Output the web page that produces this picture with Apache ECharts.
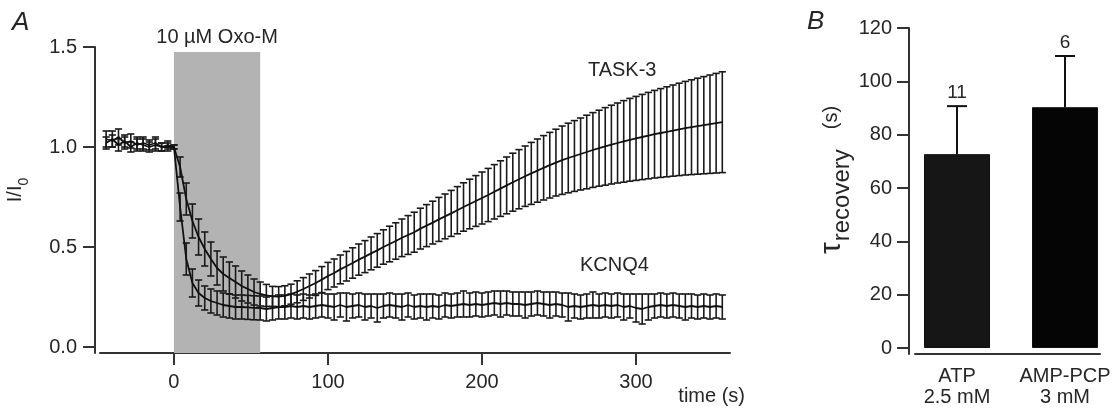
<!DOCTYPE html>
<html><head><meta charset="utf-8">
<script src="https://cdn.jsdelivr.net/npm/echarts@6/dist/echarts.min.js"></script>
<style>html,body{margin:0;padding:0;background:#fff}#c{width:1112px;height:408px}</style>
</head><body><div id="c"></div>
<script>
// ---------- Panel A data ----------
const times = [-44,-40,-36,-32,-28,-24,-20,-16,-12,-8,-4,
0,4,8,12,16,20,24,28,32,36,40,44,48,52,56,60,64,68,72,76,80,84,88,92,96,
100,104,108,112,116,120,124,128,132,136,140,144,148,152,156,160,164,168,172,176,180,184,188,192,196,
200,204,208,212,216,220,224,228,232,236,240,244,248,252,256,260,264,268,272,276,280,284,288,292,296,
300,304,308,312,316,320,324,328,332,336,340,344,348,352,356];
const task3Mean = [1.04,1.03,1.05,1.02,1.03,1.01,1.02,1.01,1.02,1.00,1.01,
1.00,0.90,0.74,0.63,0.55,0.49,0.44,0.395,0.365,0.345,0.325,0.305,0.29,0.275,0.265,0.258,0.253,0.252,0.256,0.264,0.276,0.29,0.305,0.32,0.337,
0.355,0.37,0.388,0.404,0.42,0.437,0.452,0.468,0.483,0.50,0.515,0.53,0.546,0.56,0.574,0.592,0.607,0.622,0.638,0.653,0.668,0.684,0.70,0.715,0.73,
0.745,0.76,0.776,0.792,0.808,0.824,0.839,0.854,0.868,0.882,0.896,0.909,0.922,0.934,0.945,0.955,0.965,0.975,0.985,0.994,1.003,1.012,1.02,1.028,1.036,
1.043,1.05,1.057,1.064,1.07,1.076,1.082,1.088,1.094,1.099,1.104,1.109,1.114,1.119,1.124];
const task3Err = [0.04,0.03,0.04,0.03,0.035,0.03,0.03,0.025,0.03,0.02,0.02,
0.01,0.05,0.08,0.085,0.09,0.085,0.085,0.085,0.085,0.08,0.08,0.075,0.07,0.065,0.06,0.055,0.05,0.05,0.05,0.05,0.055,0.057,0.06,0.062,0.065,
0.068,0.07,0.072,0.074,0.076,0.078,0.08,0.082,0.084,0.086,0.089,0.091,0.094,0.097,0.10,0.102,0.105,0.107,0.11,0.112,0.115,0.118,0.121,0.124,0.127,
0.13,0.133,0.136,0.139,0.142,0.145,0.148,0.151,0.155,0.158,0.161,0.164,0.167,0.171,0.174,0.177,0.18,0.184,0.187,0.19,0.194,0.197,0.20,0.204,0.207,
0.21,0.213,0.216,0.219,0.222,0.225,0.228,0.231,0.234,0.237,0.24,0.243,0.246,0.249,0.252];
const kcnq4Mean = [1.02,1.04,1.01,1.03,1.00,1.02,1.01,1.00,1.01,1.00,1.00,
1.00,0.70,0.44,0.32,0.27,0.245,0.23,0.22,0.21,0.205,0.20,0.20,0.198,0.196,0.195,0.19,0.195,0.20,0.20,0.205,0.20,0.205,0.20,0.205,0.21,
0.205,0.20,0.21,0.20,0.205,0.21,0.20,0.205,0.195,0.205,0.21,0.205,0.20,0.21,0.20,0.205,0.20,0.205,0.20,0.21,0.205,0.21,0.215,0.21,0.215,
0.21,0.215,0.22,0.215,0.22,0.215,0.215,0.21,0.215,0.22,0.215,0.21,0.215,0.21,0.20,0.205,0.20,0.205,0.21,0.205,0.21,0.205,0.21,0.20,0.205,
0.195,0.19,0.20,0.205,0.21,0.205,0.21,0.205,0.20,0.205,0.20,0.205,0.20,0.205,0.20];
const kcnq4Err = [0.03,0.04,0.03,0.03,0.025,0.03,0.03,0.025,0.03,0.02,0.02,
0.01,0.07,0.08,0.07,0.065,0.06,0.06,0.06,0.06,0.06,0.06,0.06,0.06,0.06,0.06,0.06,0.06,0.06,0.06,0.06,0.06,0.06,0.06,0.06,0.06,
0.06,0.065,0.06,0.07,0.06,0.06,0.065,0.06,0.07,0.06,0.06,0.06,0.065,0.06,0.06,0.06,0.065,0.06,0.06,0.06,0.06,0.06,0.065,0.06,0.06,
0.06,0.06,0.06,0.065,0.06,0.06,0.06,0.065,0.06,0.06,0.06,0.065,0.06,0.06,0.07,0.06,0.06,0.06,0.065,0.06,0.06,0.06,0.06,0.065,0.06,
0.07,0.075,0.065,0.06,0.06,0.06,0.06,0.06,0.065,0.06,0.06,0.06,0.06,0.06,0.06];
const stimulus = [0, 56];          // Oxo-M application window (s)
const stimulusLabel = '10 µM Oxo-M';
const aYTicks = [0, 0.5, 1.0, 1.5];
const aXTicks = [0, 100, 200, 300];
const seriesLabels = [{name:'TASK-3', at:[291, 1.385]}, {name:'KCNQ4', at:[286, 0.41]}];

// ---------- Panel B data ----------
const bCategories = ['ATP\n2.5 mM', 'AMP-PCP\n3 mM'];
const bTau = [72.7, 90.3];
const bErr = [18.0, 19.2];
const bN = [11, 6];
const bYTicks = [0, 20, 40, 60, 80, 100, 120];

const FONT = '"Liberation Sans", Arial, sans-serif';
const INK = '#262626';
const AX = '#333';

function errData(mean, err) {
  return times.map((t, i) => [t, mean[i] - err[i], mean[i] + err[i]]);
}
function errRender(params, api) {
  const x = api.value(0), lo = api.value(1), hi = api.value(2);
  const a = api.coord([x, hi]), b = api.coord([x, lo]);
  const hw = 3.6;
  const st = {stroke: '#1a1a1a', lineWidth: 1.6};
  return {type: 'group', children: [
    {type: 'line', shape: {x1: a[0], y1: a[1], x2: b[0], y2: b[1]}, style: st},
    {type: 'line', shape: {x1: a[0]-hw, y1: a[1], x2: a[0]+hw, y2: a[1]}, style: st},
    {type: 'line', shape: {x1: b[0]-hw, y1: b[1], x2: b[0]+hw, y2: b[1]}, style: st}
  ]};
}
function barErrRender(params, api) {
  const x = api.value(0), m = api.value(1), e = api.value(2), n = api.value(3);
  const a = api.coord([x, m + e]), b = api.coord([x, m]);
  const hw = 10;
  const st = {stroke: '#111', lineWidth: 2};
  return {type: 'group', children: [
    {type: 'line', shape: {x1: a[0], y1: a[1], x2: b[0], y2: b[1]}, style: st},
    {type: 'line', shape: {x1: a[0]-hw, y1: a[1], x2: a[0]+hw, y2: a[1]}, style: st},
    {type: 'text', x: a[0], y: a[1] - 4, style: {text: String(n), align: 'center', verticalAlign: 'bottom',
      fontFamily: FONT, fontSize: 19, fill: INK}}
  ]};
}

const chart = echarts.init(document.getElementById('c'), null, {renderer: 'canvas'});
const axisCommon = {
  axisLine: {show: true, onZero: false, lineStyle: {color: AX, width: 2}},
  axisTick: {show: true, length: 12, lineStyle: {color: AX, width: 2}},
  splitLine: {show: false},
  axisLabel: {color: INK, fontFamily: FONT, fontSize: 20}
};
chart.setOption({
  animation: false,
  backgroundColor: '#fff',
  grid: [
    {left: 100, right: 382, top: 47, bottom: 55, outerBoundsMode: 'none', containLabel: false},
    {left: 915, right: 12, top: 28, bottom: 54, outerBoundsMode: 'none', containLabel: false}
  ],
  xAxis: [
    Object.assign({}, axisCommon, {
      type: 'value', gridIndex: 0, min: -48, max: 361,
      axisTick: Object.assign({}, axisCommon.axisTick, {customValues: aXTicks}),
      axisLabel: Object.assign({}, axisCommon.axisLabel, {customValues: aXTicks, margin: 19}),
      name: 'time (s)', nameLocation: 'end', nameGap: 15,
      nameTextStyle: {color: INK, fontFamily: FONT, fontSize: 20, align: 'right', verticalAlign: 'top', padding: [33, 0, 0, 0]}
    }),
    Object.assign({}, axisCommon, {
      type: 'value', gridIndex: 1, min: -0.389, max: 1.324,
      axisTick: {show: false},
      axisLabel: Object.assign({}, axisCommon.axisLabel, {customValues: [0, 1], margin: 12, lineHeight: 21,
        formatter: v => bCategories[Math.round(v)]})
    })
  ],
  yAxis: [
    Object.assign({}, axisCommon, {
      type: 'value', gridIndex: 0, min: -0.03, max: 1.5, offset: 5,
      axisTick: Object.assign({}, axisCommon.axisTick, {customValues: aYTicks}),
      axisLabel: Object.assign({}, axisCommon.axisLabel, {customValues: aYTicks, margin: 18, formatter: v => v.toFixed(1)}),
      name: '{a|I/I}{s|0}', nameLocation: 'middle', nameGap: 68,
      nameTextStyle: {padding: [0, 0, 0, 20], rich: {
        a: {fontFamily: FONT, fontSize: 20, color: INK, lineHeight: 24, verticalAlign: 'middle'},
        s: {fontFamily: FONT, fontSize: 14, color: INK, lineHeight: 24, verticalAlign: 'bottom', padding: [0, 0, -4, 0]}
      }}
    }),
    Object.assign({}, axisCommon, {
      type: 'value', gridIndex: 1, min: -2.25, max: 120, offset: 6,
      axisTick: Object.assign({}, axisCommon.axisTick, {customValues: bYTicks}),
      axisLabel: Object.assign({}, axisCommon.axisLabel, {customValues: bYTicks, margin: 17}),
      name: '{t|τ}{r|recovery}{s|(s)}', nameLocation: 'middle', nameGap: 58,
      nameTextStyle: {padding: [0, 0, 0, 22], rich: {
        t: {fontFamily: FONT, fontSize: 30, color: INK, lineHeight: 32, verticalAlign: 'middle'},
        r: {fontFamily: FONT, fontSize: 24, color: INK, lineHeight: 32, verticalAlign: 'bottom', padding: [0, 20, -7, 1]},
        s: {fontFamily: FONT, fontSize: 20, color: INK, lineHeight: 32, verticalAlign: 'middle'}
      }}
    })
  ],
  graphic: [
    {type: 'text', left: 12, top: 10, style: {text: 'A', font: 'italic 26px ' + FONT, fill: INK}},
    {type: 'text', left: 807, top: 9, style: {text: 'B', font: 'italic 26px ' + FONT, fill: INK}}
  ],
  series: [
    {
      type: 'line', xAxisIndex: 0, yAxisIndex: 0, data: [], silent: true, z: 0,
      markArea: {silent: true, itemStyle: {color: '#b3b3b3'},
        label: {show: true, position: 'top', distance: 5, color: INK, fontFamily: FONT, fontSize: 20, formatter: stimulusLabel},
        data: [[{xAxis: stimulus[0], yAxis: -0.03}, {xAxis: stimulus[1], yAxis: 1.475}]]}
    },
    {type: 'custom', xAxisIndex: 0, yAxisIndex: 0, renderItem: errRender, data: errData(task3Mean, task3Err), z: 3, silent: true},
    {type: 'custom', xAxisIndex: 0, yAxisIndex: 0, renderItem: errRender, data: errData(kcnq4Mean, kcnq4Err), z: 3, silent: true},
    {type: 'line', xAxisIndex: 0, yAxisIndex: 0, showSymbol: false, symbol: 'none', z: 4, silent: true,
      lineStyle: {color: '#111', width: 1.8}, data: times.map((t, i) => [t, task3Mean[i]]),
      markPoint: {symbol: 'circle', symbolSize: 0, silent: true,
        label: {show: true, position: 'inside', color: INK, fontFamily: FONT, fontSize: 20, formatter: p => p.name},
        data: seriesLabels.map(s => ({name: s.name, coord: s.at}))}},
    {type: 'line', xAxisIndex: 0, yAxisIndex: 0, showSymbol: false, symbol: 'none', z: 4, silent: true,
      lineStyle: {color: '#111', width: 1.8}, data: times.map((t, i) => [t, kcnq4Mean[i]])},
    {type: 'bar', xAxisIndex: 1, yAxisIndex: 1, barWidth: 66, silent: true, z: 2,
      data: bTau.map((v, i) => ({value: [i, v], itemStyle: {color: i === 0 ? '#161616' : '#050505', borderColor: '#111', borderWidth: 1}}))},
    {type: 'custom', xAxisIndex: 1, yAxisIndex: 1, renderItem: barErrRender, z: 3, silent: true,
      data: bTau.map((v, i) => [i, v, bErr[i], bN[i]])}
  ]
});
</script>
</body></html>
